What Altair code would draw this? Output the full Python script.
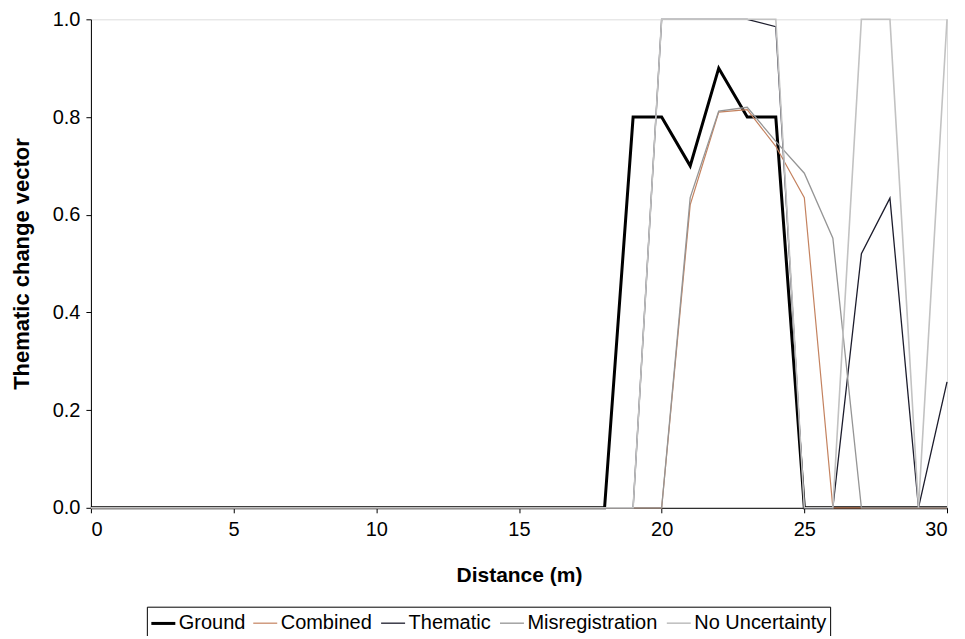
import altair as alt
import pandas as pd

distance = list(range(0, 31))
series_names = ["Ground", "Combined", "Thematic", "Misregistration", "No Uncertainty"]

z18 = [0.0] * 19  # x = 0..18
ground = z18[:18] + [0.0, 0.8, 0.8, 0.7, 0.9, 0.8, 0.8, 0.0, 0.0, 0.0, 0.0, 0.0, 0.0]
combined = z18 + [0.0, 0.0, 0.62, 0.81, 0.815, 0.74, 0.635, 0.0, 0.0, 0.0, 0.0, 0.0]
thematic = z18 + [0.0, 1.0, 1.0, 1.0, 1.0, 0.985, 0.0, 0.0, 0.52, 0.634, 0.0, 0.258]
misreg = z18 + [0.0, 0.0, 0.635, 0.812, 0.82, 0.75, 0.685, 0.552, 0.0, 0.0, 0.0, 0.0]
nounc = z18 + [0.0, 1.0, 1.0, 1.0, 1.0, 1.0, 0.0, 0.0, 1.0, 1.0, 0.0, 1.0]

values = {
    "Ground": ground,
    "Combined": combined,
    "Thematic": thematic,
    "Misregistration": misreg,
    "No Uncertainty": nounc,
}

colors = ["#000000", "#c4825f", "#1c1c2c", "#959595", "#c2c2c2"]
widths = [3.0, 1.2, 1.3, 1.3, 1.6]

font = "Liberation Sans"

x_enc = alt.X("distance:Q", title="Distance (m)",
              scale=alt.Scale(domain=[0, 30], nice=False),
              axis=alt.Axis(values=[0, 5, 10, 15, 20, 25, 30], grid=False,
                            labelFontSize=20, titleFontSize=21, titleFontWeight="bold",
                            labelFont=font, titleFont=font, labelColor="#000", titleColor="#000",
                            domainColor="#000", tickColor="#000", tickSize=5,
                            labelPadding=7, titlePadding=25))
y_enc = alt.Y("value:Q", title="Thematic change vector",
              scale=alt.Scale(domain=[0, 1], nice=False),
              axis=alt.Axis(values=[0, 0.2, 0.4, 0.6, 0.8, 1.0], format=".1f", grid=False,
                            labelFontSize=20, titleFontSize=22, titleFontWeight="bold",
                            labelFont=font, titleFont=font, labelColor="#000", titleColor="#000",
                            domainColor="#000", tickColor="#000", tickSize=5,
                            labelPadding=6, titlePadding=19))
color_enc = alt.Color("series:N", title=None,
                      scale=alt.Scale(domain=series_names, range=colors),
                      legend=alt.Legend(orient="none", legendX=56, legendY=588,
                                        direction="horizontal", columns=5,
                                        symbolType="stroke", symbolSize=576,
                                        labelFontSize=20, labelFont=font, labelColor="#000",
                                        strokeColor="#000", padding=3,
                                        columnPadding=5, labelOffset=2))
width_enc = alt.StrokeWidth("series:N", title=None,
                            scale=alt.Scale(type="ordinal", domain=series_names, range=widths))

layers = []
for s in series_names:
    d = pd.DataFrame({"distance": distance, "value": values[s], "series": [s] * len(distance)})
    layers.append(
        alt.Chart(d).mark_line(strokeJoin="miter").encode(
            x=x_enc, y=y_enc, color=color_enc, strokeWidth=width_enc
        )
    )

chart = alt.layer(*layers).properties(
    width=857, height=489,
    autosize=alt.AutoSizeParams(type="none"),
    padding={"left": 83, "top": 11, "right": 10, "bottom": 128},
).configure_view(stroke=None).configure(background="#ffffff")

chart.save("out.html", embed_options={"renderer": "svg", "actions": False})
